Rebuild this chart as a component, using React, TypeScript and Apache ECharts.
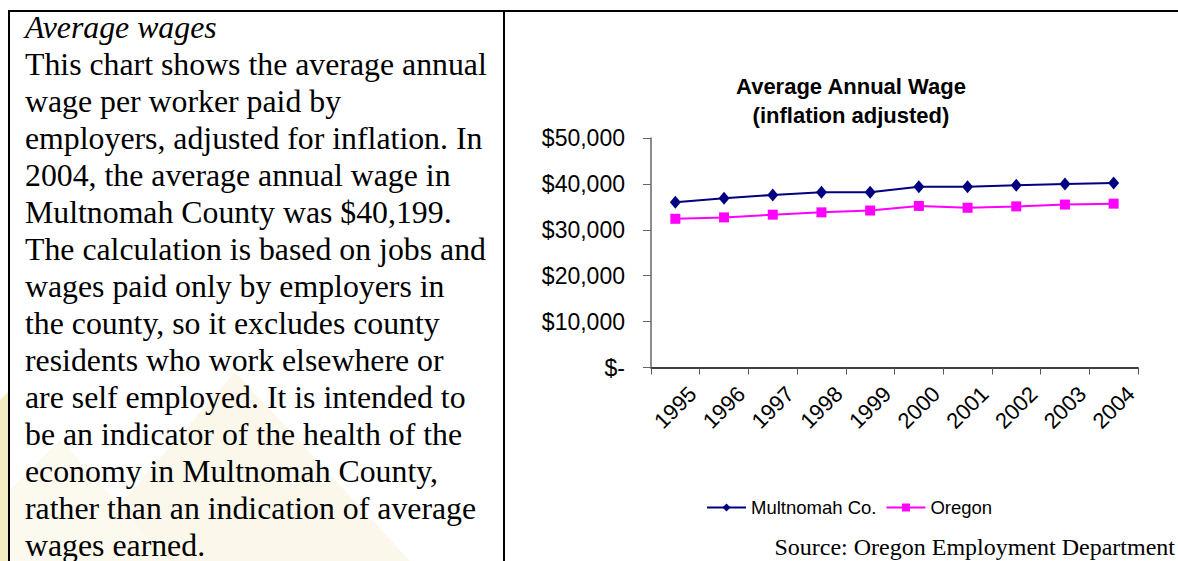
import React, { useEffect, useRef } from "react";
import * as echarts from "echarts";

const YEARS = ["1995", "1996", "1997", "1998", "1999", "2000", "2001", "2002", "2003", "2004"];
const MULTNOMAH = [36000, 36900, 37600, 38200, 38200, 39400, 39400, 39700, 40000, 40199];
const OREGON = [32400, 32700, 33300, 33800, 34200, 35200, 34800, 35100, 35500, 35700];
const SERIES_NAMES = ["Multnomah Co.", "Oregon"];

const HEADING = "Average wages";
const PARAGRAPH = [
  "This chart shows the average annual",
  "wage per worker paid by",
  "employers, adjusted for inflation. In",
  "2004, the average annual wage in",
  "Multnomah County was $40,199.",
  "The calculation is based on jobs and",
  "wages paid only by employers in",
  "the county, so it excludes county",
  "residents who work elsewhere or",
  "are self employed. It is intended to",
  "be an indicator of the health of the",
  "economy in Multnomah County,",
  "rather than an indication of average",
  "wages earned.",
];
const CHART_TITLE = "Average Annual Wage";
const CHART_SUBTITLE = "(inflation adjusted)";
const SOURCE = "Source: Oregon Employment Department";

const SERIF = '"Times New Roman", "Liberation Serif", serif';
const SANS = 'Arial, "Liberation Sans", sans-serif';

export default function App() {
  const ref = useRef<HTMLDivElement>(null);
  useEffect(() => {
    if (!ref.current) return;
    const chart = echarts.init(ref.current, undefined, { renderer: "svg" });
    const lineTop = 27;
    const pitch = 37;
    const textEls: any[] = [HEADING, ...PARAGRAPH].map((t, i) => ({
      type: "text",
      z: 10,
      style: {
        text: t,
        x: 25,
        y: lineTop + i * pitch,
        fill: "#000",
        fontSize: 31.8,
        fontFamily: SERIF,
        fontStyle: i === 0 ? "italic" : "normal",
        align: "left",
        verticalAlign: "middle",
      },
    }));
    chart.setOption({
      animation: false,
      backgroundColor: "#fff",
      graphic: [
        { type: "polygon", z: 1, shape: { points: [[70, 561], [235, 372], [410, 561]] }, style: { fill: "#FBF7EA" } },
        { type: "polygon", z: 1, shape: { points: [[0, 500], [60, 440], [170, 561], [0, 561]] }, style: { fill: "#FCF9EE" } },
        { type: "polygon", z: 1, shape: { points: [[0, 400], [8, 392], [8, 561], [0, 561]] }, style: { fill: "#F6ECC4" } },
        { type: "line", z: 5, shape: { x1: 8, y1: 11, x2: 1178, y2: 11 }, style: { stroke: "#000", lineWidth: 2 } },
        { type: "line", z: 5, shape: { x1: 9, y1: 10, x2: 9, y2: 561 }, style: { stroke: "#000", lineWidth: 2 } },
        { type: "line", z: 5, shape: { x1: 504, y1: 10, x2: 504, y2: 561 }, style: { stroke: "#000", lineWidth: 2 } },
        ...textEls,
        {
          type: "text",
          z: 10,
          style: {
            text: CHART_TITLE + "\n" + CHART_SUBTITLE,
            x: 851,
            y: 72,
            fill: "#000",
            fontSize: 22,
            fontWeight: "bold",
            fontFamily: SANS,
            align: "center",
            verticalAlign: "top",
            lineHeight: 29,
          },
        },
        {
          type: "text",
          z: 10,
          style: {
            text: SOURCE,
            x: 1175,
            y: 547,
            fill: "#000",
            fontSize: 24,
            fontFamily: SERIF,
            align: "right",
            verticalAlign: "middle",
          },
        },
      ],
      legend: {
        data: SERIES_NAMES,
        left: 701,
        top: 493,
        itemWidth: 39,
        itemHeight: 10,
        itemGap: 9,
        textStyle: { fontSize: 18.5, fontFamily: SANS, color: "#000" },
      },
      grid: { left: 651, right: 40, top: 138, bottom: 193.5, containLabel: false },
      xAxis: {
        type: "category",
        data: YEARS,
        boundaryGap: true,
        axisLine: { lineStyle: { color: "#000", width: 1.5 } },
        axisTick: { show: true, length: 7, alignWithLabel: false, lineStyle: { color: "#555" } },
        axisLabel: {
          interval: 0,
          rotate: 45,
          margin: 40,
          align: "center",
          verticalAlign: "middle",
          fontSize: 22,
          fontFamily: SANS,
          color: "#000",
        },
      },
      yAxis: {
        type: "value",
        min: 0,
        max: 50000,
        interval: 10000,
        splitLine: { show: false },
        axisLine: { show: true, lineStyle: { color: "#666", width: 1.5 } },
        axisTick: { show: true, length: 8, lineStyle: { color: "#666" } },
        axisLabel: {
          margin: 26,
          fontSize: 23,
          fontFamily: SANS,
          color: "#000",
          formatter: (v: number) => (v === 0 ? "$-" : "$" + v.toLocaleString("en-US")),
        },
      },
      series: [
        {
          name: SERIES_NAMES[0],
          type: "line",
          data: MULTNOMAH,
          symbol: "diamond",
          symbolSize: [11, 13],
          lineStyle: { color: "#000080", width: 2 },
          itemStyle: { color: "#000080" },
        },
        {
          name: SERIES_NAMES[1],
          type: "line",
          data: OREGON,
          symbol: "rect",
          symbolSize: 10,
          lineStyle: { color: "#FF00FF", width: 2 },
          itemStyle: { color: "#FF00FF" },
        },
      ],
    });
    return () => chart.dispose();
  }, []);
  return <div ref={ref} style={{ position: "fixed", left: 0, top: 0, width: 1178, height: 561 }} />;
}
